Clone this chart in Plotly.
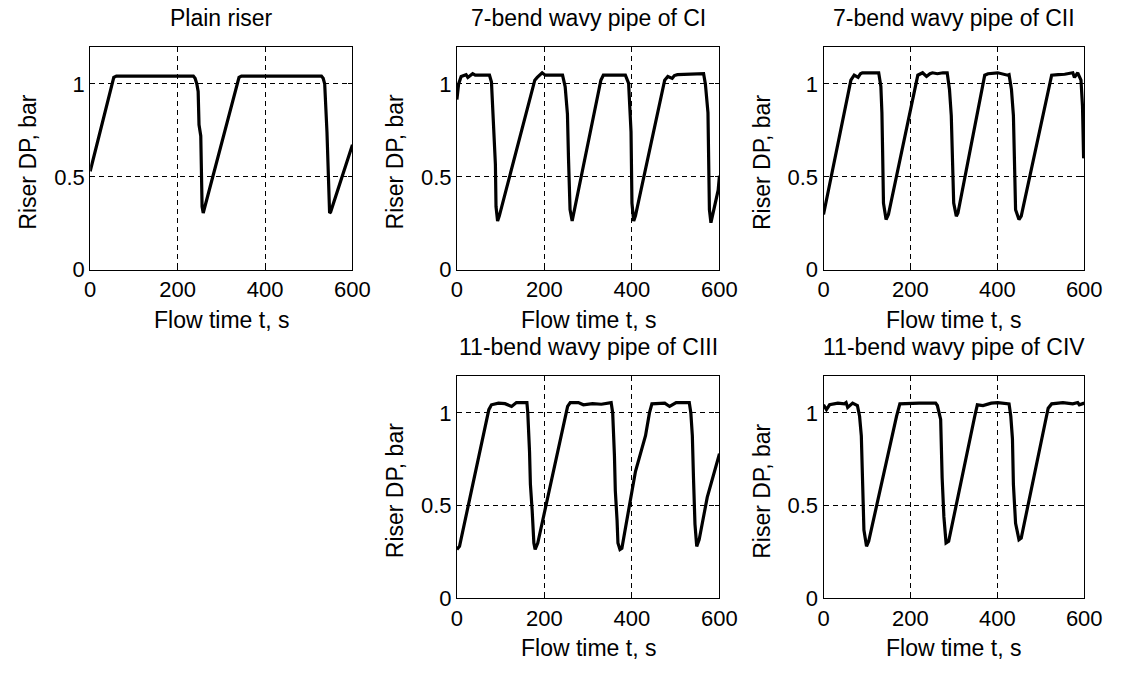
import plotly.graph_objects as go

W, H = 1127, 673

# ---------------- data ----------------
titles = ["Plain riser", "7-bend wavy pipe of CI", "7-bend wavy pipe of CII",
          "11-bend wavy pipe of CIII", "11-bend wavy pipe of CIV"]
x_label = "Flow time t, s"
y_label = "Riser DP, bar"
x_ticks = [0, 200, 400, 600]
y_ticks = [0, 0.5, 1]
y_tick_text = ["0", "0.5", "1"]

t_plain = [0, 54, 60, 236, 240, 244, 247, 249, 253, 255,
           256, 258.6, 340.5, 346, 529, 533, 536.5, 541.7, 545.5, 547.7,
           550, 600]
dp_plain = [0.53, 1.035, 1.042, 1.042, 1.03, 1.0, 0.96, 0.78, 0.72, 0.53,
            0.34, 0.305, 1.035, 1.042, 1.042, 1.03, 1.0, 0.74, 0.46, 0.305,
            0.31, 0.672]

t_ci = [0, 4, 9.7, 16, 21, 25, 30, 36, 42, 74.5,
        79, 82, 85, 88, 89.4, 93, 97, 178, 183.6, 189,
        194.8, 202, 210, 241.4, 247.4, 252.6, 255, 258.6, 263.4, 329,
        334.6, 385, 392.4, 397.9, 400, 404, 408, 474.8, 482, 492,
        497, 504, 563.7, 567.8, 573.7, 577, 580.5, 586.4, 597, 600]
dp_ci = [0.916, 1.0, 1.04, 1.045, 1.05, 1.035, 1.045, 1.055, 1.047, 1.047,
         1.01, 0.86, 0.64, 0.567, 0.34, 0.262, 0.29, 1.02, 1.035, 1.045,
         1.06, 1.047, 1.047, 1.047, 0.986, 0.838, 0.602, 0.323, 0.262, 1.02,
         1.047, 1.047, 1.003, 0.742, 0.358, 0.262, 0.29, 1.02, 1.04, 1.03,
         1.045, 1.05, 1.055, 1.0, 0.846, 0.323, 0.253, 0.323, 0.428, 0.506]

t_cii = [0, 63, 70.6, 75, 79.6, 85, 89.4, 100, 127, 132,
         134.4, 136, 138, 144, 149.4, 217, 228, 237, 245, 250.8,
         262, 275, 284.6, 289.9, 294, 299.6, 305.6, 309.4, 371, 378.5,
         401, 423.5, 427, 432.5, 437, 442, 449.8, 455, 525, 540,
         555, 573.7, 577.5, 585, 592.5, 596, 598.5, 600]
dp_cii = [0.297, 1.02, 1.047, 1.04, 1.035, 1.055, 1.06, 1.06, 1.06, 0.986,
          0.846, 0.637, 0.358, 0.27, 0.297, 1.047, 1.06, 1.04, 1.055, 1.06,
          1.055, 1.06, 1.06, 0.97, 0.83, 0.358, 0.288, 0.305, 1.047, 1.055,
          1.06, 1.047, 1.05, 0.97, 0.83, 0.323, 0.27, 0.288, 1.047, 1.05,
          1.052, 1.06, 1.035, 1.06, 1.02, 0.88, 0.6, 0.62]

t_ciii = [0, 6, 73, 79, 95, 110, 125, 136, 160, 162,
          166, 168, 172, 175.9, 178.8, 184.8, 253, 259, 277.6, 289,
          310, 330, 352.5, 356, 360, 362, 366, 368, 372.6, 377,
          408, 431, 440, 445.6, 475, 486, 501, 531, 534.6, 538,
          540.6, 544, 548, 553.6, 572, 600]
dp_ciii = [0.263, 0.28, 1.018, 1.044, 1.053, 1.05, 1.035, 1.056, 1.056, 1.0,
           0.79, 0.614, 0.474, 0.298, 0.263, 0.298, 1.035, 1.056, 1.056, 1.044,
           1.05, 1.047, 1.056, 1.0, 0.77, 0.58, 0.42, 0.298, 0.263, 0.27,
           0.684, 0.877, 1.0, 1.049, 1.053, 1.035, 1.056, 1.056, 1.0, 0.877,
           0.65, 0.4, 0.28, 0.316, 0.544, 0.78]

t_civ = [0, 6.8, 14, 33, 48, 52, 55.6, 67, 78, 83,
         87, 89, 91.6, 93, 99, 104, 168, 175.7, 220, 258,
         262, 269.6, 273, 277, 282, 288, 348, 354, 367, 386,
         401, 427, 431, 434.8, 437, 442, 449.8, 455, 510, 517,
         525, 551, 573.7, 585, 588.7, 600]
dp_civ = [1.044, 1.018, 1.044, 1.053, 1.049, 1.056, 1.03, 1.053, 1.04, 0.982,
          0.877, 0.65, 0.456, 0.368, 0.28, 0.307, 0.982, 1.049, 1.053, 1.053,
          1.04, 0.965, 0.65, 0.44, 0.298, 0.307, 0.982, 1.044, 1.04, 1.053,
          1.056, 1.049, 0.982, 0.86, 0.614, 0.404, 0.316, 0.325, 0.947, 1.026,
          1.049, 1.056, 1.049, 1.056, 1.044, 1.053]

series = [(t_plain, dp_plain), (t_ci, dp_ci), (t_cii, dp_cii),
          (t_ciii, dp_ciii), (t_civ, dp_civ)]

# ---------------- layout (pixel boxes of the five axes) ----------------
col_left = [86, 460.7, 835.3]
col_right = [354, 729, 1101.7]
row_top = [47.7, 383.3]
row_bottom = [275, 610]
cells = [(0, 0), (0, 1), (0, 2), (1, 1), (1, 2)]  # (row, col)

FONT = "Liberation Sans, Arial, sans-serif"
TXT = dict(family=FONT, size=23, color="black")
fig = go.Figure()
annotations = []

for i, ((t, dp), (r, c)) in enumerate(zip(series, cells)):
    n = "" if i == 0 else str(i + 1)
    fig.add_trace(go.Scatter(x=t, y=dp, mode="lines",
                             line=dict(color="black", width=3.2),
                             xaxis="x" + n, yaxis="y" + n, showlegend=False))
    xd = [col_left[c] / W, col_right[c] / W]
    yd = [1 - row_bottom[r] / H, 1 - row_top[r] / H]
    common = dict(showline=True, linecolor="black", linewidth=1, mirror="ticks",
                  ticks="inside", ticklen=4, tickcolor="black",
                  showgrid=True, gridcolor="black", gridwidth=1, griddash="5px,4px",
                  zeroline=False, tickfont=dict(family=FONT, size=22, color="black"),
                  fixedrange=True)
    fig.update_layout(**{
        "xaxis" + n: dict(domain=xd, range=[0, 600], tickvals=x_ticks,
                          anchor="y" + n, **common),
        "yaxis" + n: dict(domain=yd, range=[0, 1.2], tickvals=y_ticks,
                          ticktext=y_tick_text, anchor="x" + n, **common),
    })
    cx = (col_left[c] + col_right[c]) / 2 / W
    annotations.append(dict(text=titles[i], x=cx, y=1 - (row_top[r] - 14) / H,
                            xref="paper", yref="paper", xanchor="center",
                            yanchor="bottom", showarrow=False, font=TXT))
    annotations.append(dict(text=x_label, x=cx, y=1 - (row_bottom[r] + 51) / H,
                            xref="paper", yref="paper", xanchor="center",
                            yanchor="middle", showarrow=False, font=TXT))
    annotations.append(dict(text=y_label, x=(col_left[c] - 63) / W,
                            y=1 - ((row_top[r] + row_bottom[r]) / 2 + 4) / H,
                            xref="paper", yref="paper", xanchor="center",
                            yanchor="middle", textangle=-90, showarrow=False,
                            font=TXT))

fig.update_layout(width=W, height=H, margin=dict(l=0, r=0, t=0, b=0),
                  paper_bgcolor="white", plot_bgcolor="white",
                  annotations=annotations, showlegend=False)

fig.write_html("out.html")
